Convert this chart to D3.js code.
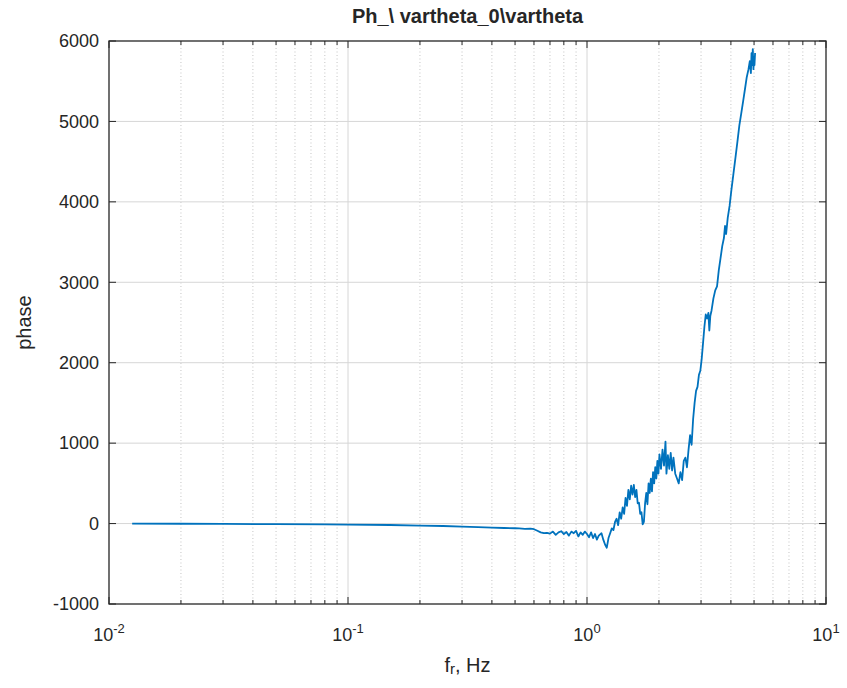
<!DOCTYPE html>
<html><head><meta charset="utf-8">
<script src="https://cdn.jsdelivr.net/npm/d3@7"></script>
<style>body{margin:0;background:#fff}svg{display:block}text{font-family:"Liberation Sans",Arial,sans-serif;fill:#262626}</style>
</head><body><div id="chart"></div>
<script>
const titleText = "Ph_\\ vartheta_0\\vartheta";
const yLabel = "phase";
const yTicks = [-1000,0,1000,2000,3000,4000,5000,6000];
const xDecades = [-2,-1,0,1];
const freq = [0.0125,0.02,0.03,0.05,0.08,0.1,0.15,0.2,0.25,0.3,0.35,0.4,0.45,0.5,
0.52,0.55,0.58,0.6,0.62,0.64,0.66,0.68,0.7,0.72,0.74,0.76,0.78,0.8,0.82,0.84,0.86,0.88,0.9,0.92,0.94,0.96,0.98,1.0,
1.02,1.04,1.06,1.08,1.1,1.12,1.15,1.17,1.19,1.21,1.23,1.25,1.27,1.29,1.31,1.33,1.35,1.37,1.39,1.41,1.43,1.45,1.47,1.49,
1.51,1.53,1.55,1.57,1.59,1.61,1.63,1.65,1.67,1.69,1.71,1.73,1.75,1.77,1.79,1.81,1.83,1.85,1.87,1.89,1.91,1.93,1.95,1.97,1.99,
2.01,2.04,2.07,2.1,2.13,2.15,2.18,2.21,2.24,2.27,2.3,2.34,2.38,2.42,2.46,2.5,2.54,2.58,2.62,2.66,2.7,2.74,2.78,2.82,2.86,2.9,
2.94,2.98,3.02,3.06,3.1,3.14,3.18,3.22,3.25,3.28,3.32,3.38,3.44,3.5,3.56,3.62,3.68,3.74,3.78,3.82,3.88,3.95,4.02,4.1,4.18,
4.26,4.34,4.42,4.5,4.58,4.66,4.74,4.8,4.85,4.88,4.91,4.94,4.97,5.0,5.02,5.05];
const phase = [0,-2,-4,-7,-10,-12,-18,-25,-30,-38,-45,-50,-55,-58,
-60,-65,-62,-70,-90,-110,-120,-115,-125,-100,-140,-110,-95,-130,-105,-150,-100,-120,-90,-160,-110,-140,-100,-130,
-170,-110,-180,-130,-200,-150,-120,-200,-260,-300,-180,-120,-60,-80,20,60,-20,140,60,200,120,320,220,420,
300,470,360,480,330,420,250,260,120,140,-10,20,250,380,240,500,380,560,400,640,500,700,560,780,620,
860,680,920,720,1020,620,850,680,880,660,820,620,560,500,640,540,780,820,700,920,1100,980,1300,1500,1650,1700,
1850,1900,2050,2250,2450,2600,2550,2620,2400,2580,2650,2800,2900,2950,3150,3300,3450,3550,3700,3600,3800,3950,4150,4350,4550,
4750,4950,5100,5250,5400,5550,5650,5750,5600,5850,5700,5900,5650,5800,5700,5850];

const W=847,H=688;
const m={l:109,r:826,t:41,b:604};
const svg=d3.select("#chart").append("svg").attr("width",W).attr("height",H);
const x=d3.scaleLog().domain([0.01,10]).range([m.l,m.r]);
const y=d3.scaleLinear().domain([-1000,6000]).range([m.b,m.t]);

const minors=[];
xDecades.slice(0,-1).forEach(d=>{for(let k=2;k<=9;k++)minors.push(k*Math.pow(10,d));});
const majors=xDecades.map(d=>Math.pow(10,d));
const g=svg.append("g");
g.selectAll(".mg").data(minors).enter().append("line")
 .attr("x1",d=>x(d)).attr("x2",d=>x(d)).attr("y1",m.t).attr("y2",m.b)
 .attr("stroke","#c4c4c4").attr("stroke-width",1).attr("stroke-dasharray","1,2.5");
g.selectAll(".Mg").data(majors.slice(1,-1)).enter().append("line")
 .attr("x1",d=>x(d)).attr("x2",d=>x(d)).attr("y1",m.t).attr("y2",m.b)
 .attr("stroke","#d6d6d6").attr("stroke-width",1);
g.selectAll(".yg").data(yTicks.slice(1,-1)).enter().append("line")
 .attr("x1",m.l).attr("x2",m.r).attr("y1",d=>y(d)).attr("y2",d=>y(d))
 .attr("stroke","#d6d6d6").attr("stroke-width",1);

const line=d3.line().x((d,i)=>x(freq[i])).y(d=>y(d));
svg.append("path").datum(phase).attr("d",line).attr("fill","none")
 .attr("stroke","#0072BD").attr("stroke-width",1.8).attr("stroke-linejoin","round");

const ax="#262626";
svg.append("rect").attr("x",m.l).attr("y",m.t).attr("width",m.r-m.l).attr("height",m.b-m.t)
 .attr("fill","none").attr("stroke",ax).attr("stroke-width",1.3);
const tk=svg.append("g").attr("stroke",ax).attr("stroke-width",1);
minors.concat(majors).forEach(v=>{
 const L=majors.includes(v)?7:4;
 tk.append("line").attr("x1",x(v)).attr("x2",x(v)).attr("y1",m.b).attr("y2",m.b-L);
 tk.append("line").attr("x1",x(v)).attr("x2",x(v)).attr("y1",m.t).attr("y2",m.t+L);
});
yTicks.forEach(v=>{
 tk.append("line").attr("x1",m.l).attr("x2",m.l+7).attr("y1",y(v)).attr("y2",y(v));
 tk.append("line").attr("x1",m.r).attr("x2",m.r-7).attr("y1",y(v)).attr("y2",y(v));
});

svg.selectAll(".yl").data(yTicks).enter().append("text")
 .attr("x",m.l-10).attr("y",d=>y(d)).attr("dy","0.35em").attr("text-anchor","end")
 .attr("font-size",18).text(d=>d);
xDecades.forEach(d=>{
 const t=svg.append("text").attr("x",x(Math.pow(10,d))).attr("y",641).attr("text-anchor","middle").attr("font-size",18);
 t.append("tspan").text("10");
 t.append("tspan").attr("dy",-8).attr("font-size",13).text(d);
});
svg.append("text").attr("x",(m.l+m.r)/2).attr("y",23).attr("text-anchor","middle")
 .attr("font-size",20).attr("font-weight","bold").attr("fill","#000").text(titleText);
const xl=svg.append("text").attr("x",(m.l+m.r)/2).attr("y",672).attr("text-anchor","middle").attr("font-size",20);
xl.append("tspan").text("f");
xl.append("tspan").attr("font-size",15).attr("dy",2).text("r");
xl.append("tspan").attr("dy",-2).text(", Hz");
svg.append("text").attr("transform",`translate(31,${(m.t+m.b)/2}) rotate(-90)`).attr("text-anchor","middle")
 .attr("font-size",20).text(yLabel);
</script></body></html>
